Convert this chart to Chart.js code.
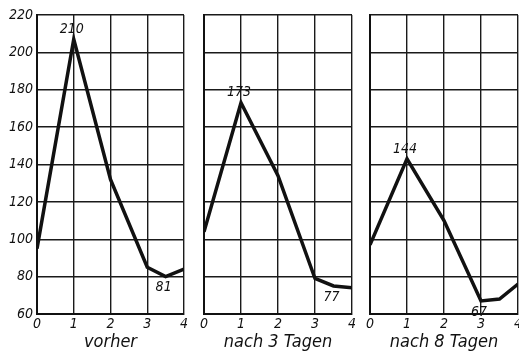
<!DOCTYPE html>
<html>
<head>
<meta charset="utf-8">
<script src="https://cdn.jsdelivr.net/npm/chart.js@4"></script>
<style>
  body { margin: 0; background: #fff; }
  .wrap { position: relative; width: 519px; height: 353px; }
  .wrap div { position: absolute; top: 0; height: 353px; }
</style>
</head>
<body>
<div class="wrap">
  <div id="p1" style="left:0;width:188px"><canvas id="c1"></canvas></div>
  <div id="p2" style="left:190px;width:165px"><canvas id="c2"></canvas></div>
  <div id="p3" style="left:356px;width:163px"><canvas id="c3"></canvas></div>
</div>
<script>
// x positions (days axis 0..4, with one half step)
const xs = [0, 1, 2, 3, 3.5, 4];
const vorher = [95, 207, 132, 85, 80, 84];
const nach3 = [104, 173, 134, 79, 75, 74];
const nach8 = [97, 143, 110, 67, 68, 76];
const titles = ["vorher", "nach 3 Tagen", "nach 8 Tagen"];
const yTicks = [60, 80, 100, 120, 140, 160, 180, 200, 220];
const xTicks = [0, 1, 2, 3, 4];
// written values next to the curve: point index, text, above/below
const notes1 = [{ i: 1, text: "210", side: "above" }, { i: 4, text: "81", side: "below" }];
const notes2 = [{ i: 1, text: "173", side: "above" }, { i: 4, text: "77", side: "below" }];
const notes3 = [{ i: 1, text: "144", side: "above" }, { i: 3, text: "67", side: "below" }];

const FONT = "'DejaVu Sans Condensed', 'Liberation Sans Narrow', 'DejaVu Sans', sans-serif";

const notesPlugin = {
  id: "notes",
  afterDatasetsDraw(chart, args, opts) {
    const ctx = chart.ctx;
    const xS = chart.scales.x, yS = chart.scales.y;
    const data = chart.data.datasets[0].data;
    ctx.save();
    ctx.fillStyle = "#111";
    ctx.font = "italic 14px " + FONT;
    ctx.textAlign = "center";
    (opts.items || []).forEach(n => {
      const p = data[n.i];
      const px = xS.getPixelForValue(p.x);
      const py = yS.getPixelForValue(p.y);
      if (n.side === "above") {
        ctx.textBaseline = "bottom";
        ctx.fillText(n.text, px - 2, py - 3);
      } else {
        ctx.textBaseline = "top";
        ctx.fillText(n.text, px - 2, py + 4);
      }
    });
    ctx.restore();
  }
};

function makeChart(id, values, title, notes, showY, padRight) {
  new Chart(document.getElementById(id), {
    type: "line",
    data: {
      datasets: [{
        data: xs.map((x, i) => ({ x: x, y: values[i] })),
        borderColor: "#111",
        borderWidth: 3.5,
        pointRadius: 0,
        tension: 0,
        fill: false
      }]
    },
    options: {
      responsive: true,
      maintainAspectRatio: false,
      animation: false,
      layout: { padding: { top: 15, right: padRight, left: 0, bottom: 0 } },
      plugins: {
        legend: { display: false },
        tooltip: { enabled: false },
        notes: { items: notes }
      },
      scales: {
        x: {
          type: "linear",
          min: 0, max: 4,
          afterBuildTicks: s => { s.ticks = xTicks.map(v => ({ value: v })); },
          afterFit: s => { s.height = 39; s.paddingLeft = 0; s.paddingRight = 0; },
          grid: { color: "#1a1a1a", lineWidth: 1.4, drawTicks: false },
          border: { color: "#111", width: 2 },
          ticks: {
            color: "#111",
            padding: 2,
            font: { family: FONT, size: 14, style: "italic" },
            maxRotation: 0
          },
          title: {
            display: true,
            text: title,
            color: "#111",
            padding: { top: 0, bottom: 0 },
            font: { family: FONT, size: 18, style: "italic" }
          }
        },
        y: {
          type: "linear",
          min: 60, max: 220,
          afterBuildTicks: s => { s.ticks = yTicks.map(v => ({ value: v })); },
          afterFit: s => { s.width = showY ? 37 : 14; s.paddingTop = 0; s.paddingBottom = 0; },
          grid: { color: "#1a1a1a", lineWidth: 1.4, drawTicks: false },
          border: { color: "#111", width: 2 },
          ticks: {
            display: showY,
            color: "#111",
            padding: 4,
            font: { family: FONT, size: 14, style: "italic" }
          }
        }
      }
    },
    plugins: [notesPlugin]
  });
}

makeChart("c1", vorher, titles[0], notes1, true, 4);
makeChart("c2", nach3, titles[1], notes2, false, 3);
makeChart("c3", nach8, titles[2], notes3, false, 1);
</script>
</body>
</html>
